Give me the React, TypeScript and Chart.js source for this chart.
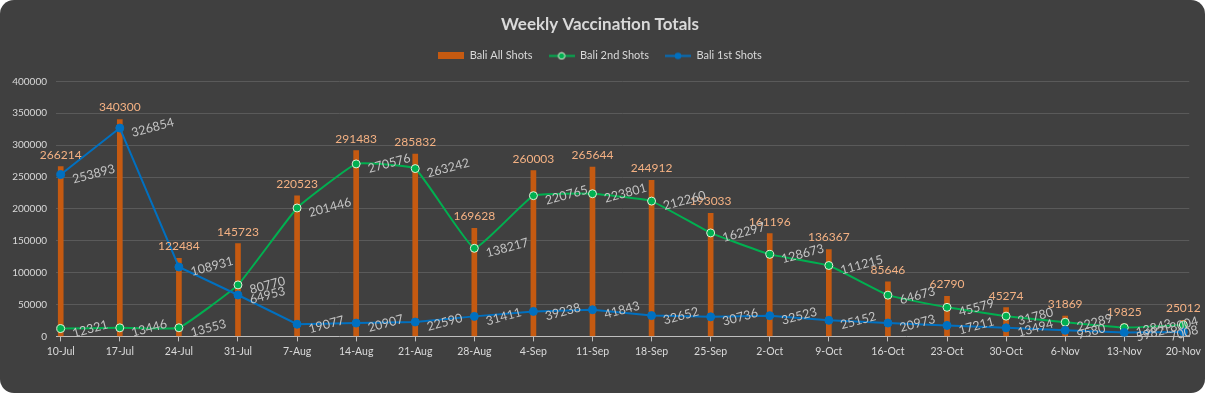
import React, { useEffect, useRef } from 'react';
import { Chart, registerables } from 'chart.js';

Chart.register(...registerables);

const categories = ['10-Jul', '17-Jul', '24-Jul', '31-Jul', '7-Aug', '14-Aug', '21-Aug', '28-Aug', '4-Sep', '11-Sep', '18-Sep', '25-Sep', '2-Oct', '9-Oct', '16-Oct', '23-Oct', '30-Oct', '6-Nov', '13-Nov', '20-Nov'];
const allShots = [266214, 340300, 122484, 145723, 220523, 291483, 285832, 169628, 260003, 265644, 244912, 193033, 161196, 136367, 85646, 62790, 45274, 31869, 19825, 25012];
const secondShots = [12321, 13446, 13553, 80770, 201446, 270576, 263242, 138217, 220765, 223801, 212260, 162297, 128673, 111215, 64673, 45579, 31780, 22289, 13843, 18004];
const firstShots = [253893, 326854, 108931, 64953, 19077, 20907, 22590, 31411, 39238, 41843, 32652, 30736, 32523, 25152, 20973, 17211, 13494, 9580, 5982, 7008];
const seriesNames = ['Bali All Shots', 'Bali 2nd Shots', 'Bali 1st Shots'];
const yMax = 400000;
const yStep = 50000;

const ORANGE = '#c55a11';
const GREEN = '#00b050';
const BLUE = '#0070c0';
const FONT = 'Lato';

function makeIcon(kind: 'bar' | 'green' | 'blue'): HTMLCanvasElement {
  const c = document.createElement('canvas');
  c.width = 26;
  c.height = kind === 'bar' ? 7 : 9;
  const g = c.getContext('2d')!;
  if (kind === 'bar') {
    g.fillStyle = ORANGE;
    g.fillRect(0, 0, 26, 7);
  } else {
    const col = kind === 'green' ? GREEN : BLUE;
    g.strokeStyle = col;
    g.lineWidth = 2;
    g.beginPath();
    g.moveTo(0, 4.5);
    g.lineTo(26, 4.5);
    g.stroke();
    g.beginPath();
    g.arc(13, 4.5, 3.3, 0, Math.PI * 2);
    g.fillStyle = col;
    g.fill();
    if (kind === 'green') {
      g.strokeStyle = '#e2f0d9';
      g.lineWidth = 1;
      g.stroke();
    }
  }
  return c;
}

const legendMargin = {
  id: 'legendMargin',
  beforeInit(chart: any) {
    const lg = chart.legend;
    if (!lg) return;
    const orig = lg.fit;
    lg.fit = function fit() {
      orig.bind(lg)();
      this.height += 10;
    };
  },
};

const valueLabels = {
  id: 'valueLabels',
  afterDatasetsDraw(chart: any) {
    const ctx = chart.ctx as CanvasRenderingContext2D;
    ctx.save();
    chart.data.datasets.forEach((ds: any, di: number) => {
      const meta = chart.getDatasetMeta(di);
      meta.data.forEach((el: any, i: number) => {
        const v = ds.data[i].y;
        const text = String(v);
        if (ds.type === 'bar') {
          ctx.font = `12px ${FONT}`;
          ctx.fillStyle = '#f4b183';
          ctx.textAlign = 'center';
          ctx.textBaseline = 'alphabetic';
          let x = el.x;
          const w = ctx.measureText(text).width;
          if (x + w / 2 > chart.width - 4) x = chart.width - 4 - w / 2;
          ctx.fillText(text, x, el.y - 8);
        } else {
          ctx.font = `12.5px ${FONT}`;
          ctx.fillStyle = '#c4c4c4';
          ctx.textAlign = 'left';
          ctx.textBaseline = 'alphabetic';
          const w = ctx.measureText(text).width;
          const ang = -15 * Math.PI / 180;
          let x0 = el.x + 13;
          const endX = x0 + w * Math.cos(ang);
          if (endX > chart.width - 6) x0 -= endX - (chart.width - 6);
          ctx.save();
          ctx.translate(x0, el.y + 9);
          ctx.rotate(ang);
          ctx.fillText(text, 0, 0);
          ctx.restore();
        }
      });
    });
    ctx.restore();
  },
};

export default function App() {
  const ref = useRef<HTMLCanvasElement>(null);

  useEffect(() => {
    document.body.style.margin = '0';
    const icons = [makeIcon('bar'), makeIcon('green'), makeIcon('blue')];
    const toXY = (arr: number[]) => arr.map((v, i) => ({ x: i, y: v }));

    const chart = new Chart(ref.current!, {
      type: 'bar',
      data: {
        datasets: [
          {
            type: 'bar',
            label: seriesNames[0],
            data: toXY(allShots),
            backgroundColor: ORANGE,
            borderWidth: 0,
            barThickness: 5,
            order: 3,
          } as any,
          {
            type: 'line',
            label: seriesNames[1],
            data: toXY(secondShots),
            borderColor: GREEN,
            backgroundColor: GREEN,
            borderWidth: 2,
            pointRadius: 4,
            pointBackgroundColor: GREEN,
            pointBorderColor: '#e2f0d9',
            pointBorderWidth: 1,
            tension: 0.1,
            order: 2,
          } as any,
          {
            type: 'line',
            label: seriesNames[2],
            data: toXY(firstShots),
            borderColor: BLUE,
            backgroundColor: BLUE,
            borderWidth: 2,
            pointRadius: 4,
            pointBackgroundColor: BLUE,
            pointBorderColor: BLUE,
            pointBorderWidth: 1,
            tension: 0,
            order: 1,
          } as any,
        ],
      },
      options: {
        responsive: false,
        animation: false,
        layout: { padding: { left: 10, right: 15, top: 0, bottom: 31 } },
        plugins: {
          title: {
            display: true,
            text: 'Weekly Vaccination Totals',
            color: '#d9d9d9',
            font: { family: FONT, size: 17, weight: 'bold' },
            padding: { top: 14, bottom: 0 },
          },
          legend: {
            display: true,
            labels: {
              color: '#d9d9d9',
              font: { family: FONT, size: 11 },
              usePointStyle: true,
              pointStyleWidth: 26,
              boxHeight: 7,
              padding: 16,
              generateLabels: () =>
                seriesNames.map((name, i) => ({
                  text: name,
                  fillStyle: 'transparent',
                  strokeStyle: 'transparent',
                  lineWidth: 0,
                  hidden: false,
                  datasetIndex: i,
                  pointStyle: icons[i],
                  fontColor: '#d9d9d9',
                })),
            },
          },
          tooltip: { enabled: false },
        },
        scales: {
          x: {
            type: 'linear',
            offset: false,
            min: -0.08,
            max: 19.1,
            afterBuildTicks: (axis: any) => {
              axis.ticks = categories.map((_, i) => ({ value: i }));
            },
            ticks: {
              color: '#d9d9d9',
              font: { family: FONT, size: 10.5 },
              padding: 4,
              maxRotation: 0,
              autoSkip: false,
              callback: (v: any) => categories[v as number],
            },
            grid: {
              display: true,
              offset: false,
              drawOnChartArea: false,
              drawTicks: true,
              tickLength: 5,
              tickColor: '#bfbfbf',
            },
            border: { display: true, color: '#bfbfbf', width: 1 },
          },
          y: {
            min: 0,
            max: yMax,
            afterFit: (s: any) => {
              s.width = 46;
            },
            ticks: {
              stepSize: yStep,
              color: '#d9d9d9',
              font: { family: FONT, size: 10 },
              padding: 9,
              callback: (v: any) => String(v),
            },
            grid: { color: '#5a5a5a', drawTicks: false, lineWidth: 1 },
            border: { display: false },
          },
        },
      } as any,
      plugins: [legendMargin, valueLabels],
    });
    return () => chart.destroy();
  }, []);

  return (
    <div style={{ width: 1205, height: 393, background: '#404040', borderRadius: 14, overflow: 'hidden' }}>
      <canvas ref={ref} width={1205} height={393} style={{ display: 'block' }} />
    </div>
  );
}
